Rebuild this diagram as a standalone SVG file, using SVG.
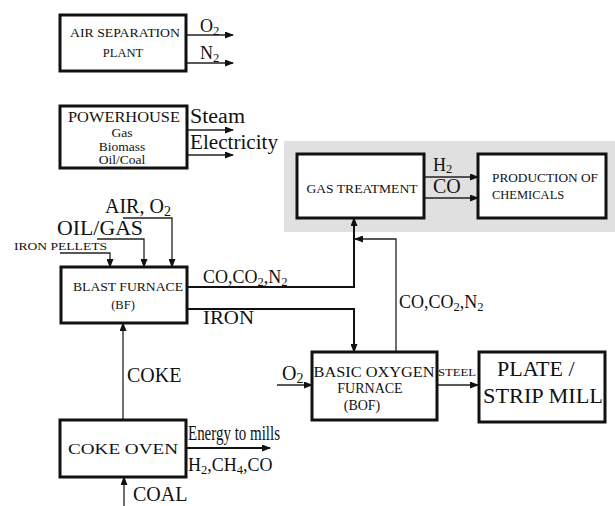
<svg xmlns="http://www.w3.org/2000/svg" width="615" height="506" viewBox="0 0 615 506">
<defs>
<marker id="ah" markerWidth="9" markerHeight="7" refX="8" refY="3.5" orient="auto" markerUnits="userSpaceOnUse">
<path d="M0,0 L9,3.5 L0,7 z" fill="#111"/>
</marker>
<style>
text{font-family:"Liberation Serif","Times New Roman",serif;fill:#111}
.box{fill:#fff;stroke:#111;stroke-width:3}
.ln{fill:none;stroke:#222;stroke-width:1.3}
.thk{fill:none;stroke:#111;stroke-width:2}
.arr{marker-end:url(#ah)}
.s12{font-size:12.5px}
.s13{font-size:13.5px}
.s14{font-size:14px}
.s15{font-size:15px}
.s18{font-size:18px}
.s20{font-size:20px}
.s22{font-size:22px}
.sub{font-size:70%}
</style>
</defs>
<rect width="615" height="506" fill="#fff"/>
<rect x="284" y="141" width="331" height="91" fill="#e0e0e0"/>

<g id="connectors">
<line class="ln arr" x1="186" y1="35" x2="233" y2="35"/>
<line class="ln arr" x1="186" y1="63" x2="233" y2="63"/>
<line class="ln arr" x1="187" y1="130" x2="233" y2="130"/>
<line class="ln arr" x1="187" y1="155" x2="233" y2="155"/>
<path class="ln arr" d="M60,253 H110 V267"/>
<path class="ln arr" d="M97,239 H144 V267"/>
<path class="ln arr" d="M123,218 H172 V267"/>
<path class="thk arr" d="M187,287 H354 V218"/>
<path class="thk arr" d="M187,309 H354 V352"/>
<path class="ln arr" d="M396,352 V239 H355"/>
<line class="ln arr" x1="424" y1="177" x2="478" y2="177"/>
<line class="ln arr" x1="424" y1="198" x2="478" y2="198"/>
<line class="ln arr" x1="277" y1="385" x2="312" y2="385"/>
<line class="ln arr" x1="437" y1="385" x2="478" y2="385"/>
<line class="ln arr" x1="123" y1="420" x2="123" y2="323"/>
<line class="thk arr" x1="186" y1="448" x2="270" y2="448"/>
<line class="ln arr" x1="124" y1="506" x2="124" y2="477"/>
</g>

<g id="labels">
<text class="s18" x="200" y="32">O<tspan class="sub" dy="3">2</tspan></text>
<text class="s18" x="200" y="59">N<tspan class="sub" dy="3">2</tspan></text>
<text class="s20" x="190" y="123" textLength="55" lengthAdjust="spacingAndGlyphs">Steam</text>
<text class="s20" x="190" y="149" textLength="88" lengthAdjust="spacingAndGlyphs">Electricity</text>
<text class="s20" x="105" y="213">AIR, O<tspan class="sub" dy="3">2</tspan></text>
<text class="s20" x="57" y="235" textLength="86" lengthAdjust="spacingAndGlyphs">OIL/GAS</text>
<text style="font-size:11px" x="14" y="250" textLength="93" lengthAdjust="spacingAndGlyphs">IRON PELLETS</text>
<text class="s18" x="203" y="283">CO,CO<tspan class="sub" dy="3">2</tspan><tspan dy="-3">,N</tspan><tspan class="sub" dy="3">2</tspan></text>
<text class="s18" x="203" y="324" textLength="51" lengthAdjust="spacingAndGlyphs">IRON</text>
<text class="s18" x="399" y="308">CO,CO<tspan class="sub" dy="3">2</tspan><tspan dy="-3">,N</tspan><tspan class="sub" dy="3">2</tspan></text>
<text class="s18" x="433" y="171">H<tspan class="sub" dy="2">2</tspan></text>
<text class="s20" x="433" y="193">CO</text>
<text class="s20" x="282" y="380">O<tspan class="sub" dy="3">2</tspan></text>
<text style="font-size:10px" x="438" y="376" textLength="38" lengthAdjust="spacingAndGlyphs">STEEL</text>
<text class="s20" x="127" y="382">COKE</text>
<text class="s20" x="188" y="440" textLength="92" lengthAdjust="spacingAndGlyphs">Energy to mills</text>
<text class="s18" x="188" y="471">H<tspan class="sub" dy="3">2</tspan><tspan dy="-3">,CH</tspan><tspan class="sub" dy="3">4</tspan><tspan dy="-3">,CO</tspan></text>
<text class="s20" x="133" y="501">COAL</text>
</g>

<g id="air-separation">
<rect class="box" x="60" y="15" width="126" height="56"/>
<text class="s12" x="125" y="37" text-anchor="middle" textLength="110" lengthAdjust="spacingAndGlyphs">AIR SEPARATION</text>
<text class="s12" x="123" y="57" text-anchor="middle">PLANT</text>
</g>

<g id="powerhouse">
<rect class="box" x="60" y="106" width="127" height="62"/>
<text class="s15" x="124" y="122" text-anchor="middle" textLength="112" lengthAdjust="spacingAndGlyphs">POWERHOUSE</text>
<text class="s13" x="122" y="137" text-anchor="middle">Gas</text>
<text class="s13" x="122" y="150.5" text-anchor="middle">Biomass</text>
<text class="s13" x="122" y="164" text-anchor="middle">Oil/Coal</text>
</g>

<g id="blast-furnace">
<rect class="box" x="61" y="267" width="126" height="56"/>
<text class="s12" x="128" y="291" text-anchor="middle" textLength="110" lengthAdjust="spacingAndGlyphs">BLAST FURNACE</text>
<text class="s12" x="123" y="309" text-anchor="middle">(BF)</text>
</g>

<g id="gas-treatment">
<rect class="box" x="297" y="154" width="127" height="64"/>
<text class="s12" x="362" y="193" text-anchor="middle" textLength="111" lengthAdjust="spacingAndGlyphs">GAS TREATMENT</text>
</g>

<g id="production-of-chemicals">
<rect class="box" x="478" y="154" width="128" height="64"/>
<text class="s12" x="492" y="182" textLength="106" lengthAdjust="spacingAndGlyphs">PRODUCTION OF</text>
<text class="s12" x="492" y="199">CHEMICALS</text>
</g>

<g id="basic-oxygen-furnace">
<rect class="box" x="312" y="352" width="125" height="68"/>
<text class="s14" x="374" y="377" text-anchor="middle" textLength="121" lengthAdjust="spacingAndGlyphs">BASIC OXYGEN</text>
<text class="s14" x="370" y="393" text-anchor="middle">FURNACE</text>
<text class="s14" x="362" y="410" text-anchor="middle">(BOF)</text>
</g>

<g id="plate-strip-mill">
<rect class="box" x="479" y="352" width="126" height="70"/>
<text class="s22" x="497" y="376">PLATE /</text>
<text class="s22" x="483" y="403" textLength="120" lengthAdjust="spacingAndGlyphs">STRIP MILL</text>
</g>

<g id="coke-oven">
<rect class="box" x="60" y="420" width="126" height="57"/>
<text class="s15" x="123" y="454" text-anchor="middle" textLength="110" lengthAdjust="spacingAndGlyphs">COKE OVEN</text>
</g>
</svg>
